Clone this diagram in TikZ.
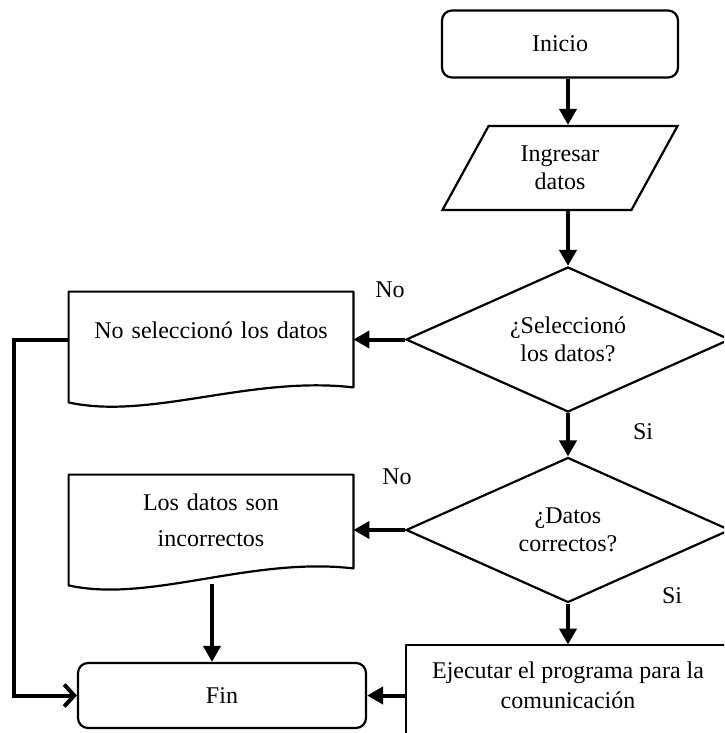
\documentclass[tikz,border=0pt]{standalone}
\usepackage{fontspec}
\setmainfont{Liberation Serif}
\usepackage{tikz}
\usetikzlibrary{arrows.meta,shapes.geometric,positioning,calc}
\tikzstyle{terminal} = [rectangle, rounded corners=5pt, draw, line width=1.1pt, text centered]
\tikzstyle{io} = [trapezium, trapezium left angle=60, trapezium right angle=120, trapezium stretches=true, draw, line width=1.1pt, align=center, inner sep=0pt]
\tikzstyle{decision} = [diamond, draw, line width=1.1pt, align=center, aspect=2.2, inner sep=0pt, minimum width=162pt, minimum height=72.5pt]
\tikzstyle{docbox} = [rectangle, align=center, minimum width=142pt, text width=130pt]
\tikzstyle{outline} = [line width=1.1pt, line join=round]
\tikzstyle{arrow} = [line width=2pt, -{Triangle[length=8pt,width=8.5pt]}]
\tikzstyle{openarrow} = [line width=2pt, -{Straight Barb[length=5pt,width=11pt]}]

\begin{document}
\begin{tikzpicture}[x=0.5pt, y=-0.5pt, font=\fontsize{12}{14}\selectfont]
\useasboundingbox (0,0) rectangle (724,733);
\clip (0,0) rectangle (724,733);

% main column
\node (inicio) [terminal, minimum width=118pt, minimum height=33.5pt] at (560,44) {Inicio};
\node (ingresar) [io, minimum width=118pt, minimum height=42pt] at (560,168) {Ingresar\\datos};
\node (d1) [decision] at (568,339.5) {¿Seleccionó\\los datos?};
\node (d2) [decision] at (568,530) {¿Datos\\correctos?};
\node (ejec) [rectangle, minimum width=162pt, minimum height=40pt, align=center] at (568,685) {Ejecutar el programa para la\\[1pt]comunicación};
\draw[outline] (ejec.north east) ++(30,0) -- (ejec.north west) -- ++(0,110);

% messages
\node (b1) [docbox, minimum height=38pt] at (211,330) {No seleccionó los datos};
\draw[outline] (b1.north west) -- (b1.north east) -- ($(b1.south east)+(0,19)$)
  .. controls +(-103,-12) and +(81,18) .. ($(b1.south west)+(0,34)$) -- cycle;
\node (b2) [docbox, minimum height=45pt] at (211,520) {Los datos son\\[4pt]incorrectos};
\draw[outline] (b2.north west) -- (b2.north east) -- ($(b2.south east)+(0,3)$)
  .. controls +(-103,-12) and +(81,18) .. ($(b2.south west)+(0,20)$) -- cycle;

\node (fin) [terminal, minimum width=144pt, minimum height=32.5pt] at (222,695.5) {Fin};

% labels
\node (no1) at (390,290) {No};
\node (si1) at (643,432) {Si};
\node (no2) at (397,477) {No};
\node (si2) at (672,596) {Si};

% connectors
\draw[arrow] (inicio.south -| d1.north) -- (ingresar.north -| d1.north);
\draw[arrow] (ingresar.south -| d1.north) -- (d1.north);
\draw[arrow] (d1.south) -- (d2.north);
\draw[arrow] (d2.south) -- (ejec.north);
\draw[arrow] (d1.west) -- (d1.west -| b1.east);
\draw[arrow] (d2.west) -- (d2.west -| b2.east);
\coordinate (b2foot) at (212,584);
\draw[arrow] (b2foot) -- (b2foot |- fin.north);
\draw[arrow] (fin.east -| ejec.west) -- (fin.east);
\coordinate (rail) at (14,339.5);
\draw[openarrow] (d1.west -| b1.west) -- (rail) |- (fin.west);
\end{tikzpicture}
\end{document}
